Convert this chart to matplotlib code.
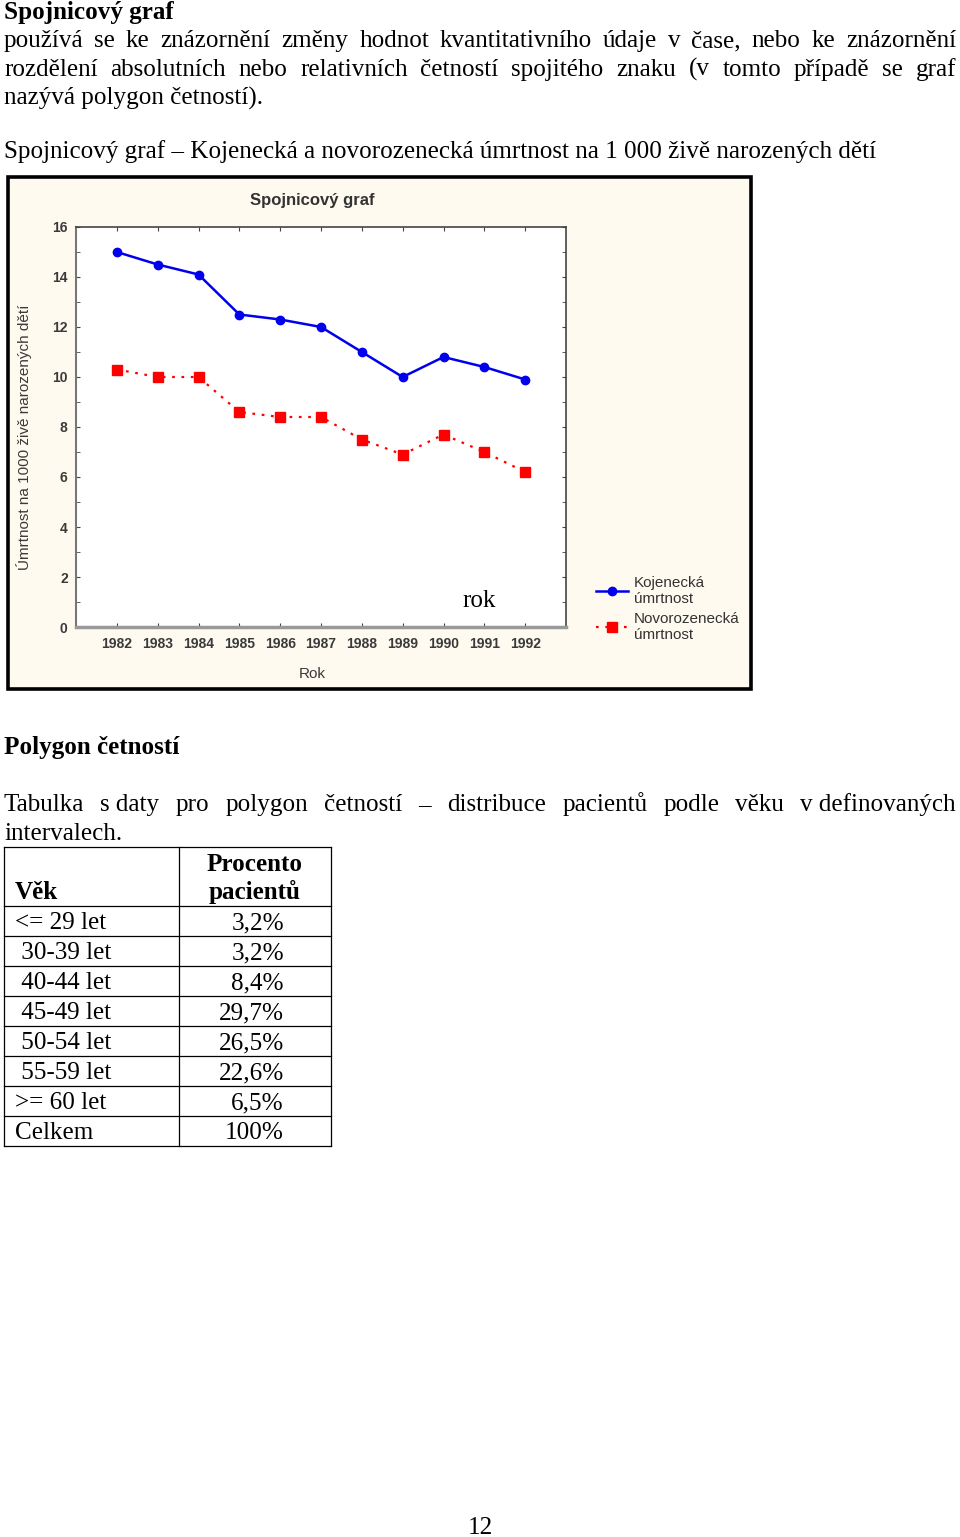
import matplotlib
matplotlib.use("Agg")
import matplotlib.pyplot as plt
from matplotlib.patches import Rectangle
from matplotlib.ticker import MultipleLocator

plt.rcParams['font.family'] = ['Liberation Sans', 'DejaVu Sans']

# data
roky = [1982, 1983, 1984, 1985, 1986, 1987, 1988, 1989, 1990, 1991, 1992]
kojenecka = [15.0, 14.5, 14.1, 12.5, 12.3, 12.0, 11.0, 10.0, 10.8, 10.4, 9.9]
novorozenecka = [10.3, 10.0, 10.0, 8.6, 8.4, 8.4, 7.5, 6.9, 7.7, 7.0, 6.2]

vek = ["<= 29 let", " 30-39 let", " 40-44 let", " 45-49 let", " 50-54 let",
       " 55-59 let", ">= 60 let", "Celkem"]
procenta = ["3,2%", "3,2%", "8,4%", "29,7%", "26,5%", "22,6%", "6,5%", "100%"]

W, H = 960, 1537
fig = plt.figure(figsize=(W / 100, H / 100), dpi=100)
fig.patch.set_facecolor("white")

# page canvas in pixel coordinates
bg = fig.add_axes([0, 0, 1, 1])
bg.set_xlim(0, W)
bg.set_ylim(H, 0)
bg.axis("off")

SERIF = "Liberation Serif"
FS = 18.1


def justify(words, x0, x1, y, size=FS, weight="normal"):
    r = fig.canvas.get_renderer()
    ts = [bg.text(0, y, w, fontsize=size, family=SERIF, fontweight=weight,
                  va="baseline", ha="left") for w in words]
    widths = [t.get_window_extent(r).width for t in ts]
    gap = (x1 - x0 - sum(widths)) / (len(words) - 1)
    x = x0
    for t, w in zip(ts, widths):
        t.set_x(x)
        x += w + gap


def line(txt, x, y, size=FS, weight="normal", ha="left"):
    bg.text(x, y, txt, fontsize=size, family=SERIF, fontweight=weight,
            va="baseline", ha=ha)


# text above the chart
line("Spojnicový graf", 4, 19, weight="bold")
justify("používá se ke znázornění změny hodnot kvantitativního údaje v čase, nebo ke znázornění".split(),
        4, 956, 47)
justify("rozdělení absolutních nebo relativních četností spojitého znaku (v tomto případě se graf".split(),
        4, 956, 76)
line("nazývá polygon četností).", 4, 105)
line("Spojnicový graf – Kojenecká a novorozenecká úmrtnost na 1 000 živě narozených dětí", 4, 158)

# chart frame
bg.add_patch(Rectangle((7.5, 176.5), 743, 512, facecolor="#FFFAF0",
                       edgecolor="black", lw=2.6))

# chart axes (pixel box 76..566 x 227..627)
ax = fig.add_axes([76 / W, 1 - 627 / H, 490 / W, 400 / H])
ax.set_facecolor("white")
ax.plot(roky, kojenecka, color="#0000EE", lw=1.8, marker="o", ms=6,
        label="Kojenecká\númrtnost")
ax.plot(roky, novorozenecka, color="#FF0000", lw=1.6, ls=(0, (1.2, 3)),
        marker="s", ms=6.5, label="Novorozenecká\númrtnost")
ax.set_xlim(1981, 1993)
ax.set_ylim(0, 16)
ax.set_xticks(roky)
ax.yaxis.set_major_locator(MultipleLocator(2))
ax.yaxis.set_minor_locator(MultipleLocator(1))
ax.tick_params(which="both", direction="in", top=True, right=True,
               colors="#444", labelcolor="#3a3a3a", labelsize=10, length=3)
ax.tick_params(axis="y", pad=6)
ax.tick_params(axis="x", pad=7)
for lab in ax.get_xticklabels() + ax.get_yticklabels():
    lab.set_fontweight("bold")
for s in ("top", "right"):
    ax.spines[s].set_color("#444")
    ax.spines[s].set_linewidth(1.2)
ax.spines["left"].set_color("#777")
ax.spines["left"].set_linewidth(1.5)
ax.spines["bottom"].set_color("#999")
ax.spines["bottom"].set_linewidth(2.5)

ax.set_title("Spojnicový graf", fontsize=12, fontweight="bold", color="#333",
             x=0.482, pad=16)
ax.set_xlabel("Rok", fontsize=11, color="#3a3a3a")
ax.xaxis.set_label_coords(0.482, -0.1)
ax.set_ylabel("Úmrtnost na 1000 živě narozených dětí", fontsize=11, color="#3a3a3a")
ax.yaxis.set_label_coords(-0.09, 0.475)

ax.legend(loc="upper left", bbox_to_anchor=(588 / W, 1 - 568 / H),
          bbox_transform=fig.transFigure, frameon=False, fontsize=11,
          handlelength=2.1, handletextpad=0.4, labelspacing=0.4, numpoints=1,
          borderpad=0, labelcolor="#333")

fig.text(479 / W, 1 - 607 / H, "rok", fontsize=FS, family=SERIF, ha="center",
         va="baseline")

# polygon section
line("Polygon četností", 4, 754, weight="bold")
justify(["Tabulka", "s daty", "pro", "polygon", "četností", "–", "distribuce",
         "pacientů", "podle", "věku", "v definovaných"], 4, 956, 811)
line("intervalech.", 4, 840)

# table
xl, xm, xr = 4, 179, 331
top, head_bot, row_h = 847, 906, 30
n = len(vek)
bottom = head_bot + n * row_h
for x in (xl, xm, xr):
    bg.plot([x, x], [top, bottom], color="black", lw=0.9)
bg.plot([xl, xr], [top, top], color="black", lw=0.9)
for i in range(n + 1):
    y = head_bot + i * row_h
    bg.plot([xl, xr], [y, y], color="black", lw=0.9)

line("Věk", 15, 899, weight="bold")
line("Procento", 255, 871, weight="bold", ha="center")
line("pacientů", 255, 899, weight="bold", ha="center")
for i, (v, p) in enumerate(zip(vek, procenta)):
    yb = head_bot + 23 + i * row_h
    line(v, 15, yb)
    line(p, 284, yb, ha="right")

line("12", 480, 1534, ha="center")

fig.savefig("out.png", dpi=100, facecolor="white")
